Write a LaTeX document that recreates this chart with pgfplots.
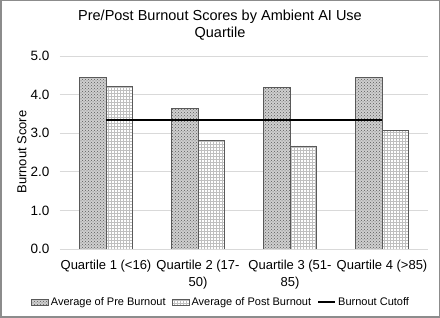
\documentclass[border=0pt]{standalone}
\usepackage{pgfplots}
\pgfplotsset{compat=1.18}
\usepackage{fontspec}
\setmainfont{Liberation Sans}
\usetikzlibrary{patterns}
\definecolor{gridc}{HTML}{D9D9D9}
\definecolor{framec}{HTML}{8C8C8C}
\definecolor{edgec}{HTML}{595959}
\begin{document}
\begin{tikzpicture}[x=1pt,y=1pt]
\useasboundingbox (0,0) rectangle (440,318);
\draw[framec, line width=1.5pt] (0.75,0.75) rectangle (439.25,317.25);
\begin{axis}[
  at={(60pt,69pt)}, anchor=south west,
  scale only axis, width=368pt, height=193pt,
  xmin=-0.5, xmax=3.5, ymin=0, ymax=5,
  axis line style={draw=none},
  ytick={0,1,2,3,4,5},
  yticklabel style={/pgf/number format/fixed, /pgf/number format/precision=1, /pgf/number format/fixed zerofill, font=\fontsize{13.5}{15}\selectfont, xshift=-7pt},
  /pgf/number format/assume math mode=true,
  ymajorgrids, grid style={gridc, line width=0.8pt},
  major tick length=0pt,
  xtick={0,1,2,3},
  xticklabels={{Quartile 1 (<16)}, {Quartile 2 (17-\\50)}, {Quartile 3 (51-\\85)}, {Quartile 4 (>85)}},
  xticklabel style={align=center, font=\fontsize{13}{16.5}\selectfont, anchor=north, yshift=-8pt},
  legend columns=3,
  legend style={at={(0.4375,-0.275)}, anchor=center, draw=none, font=\fontsize{11}{13}\selectfont, /tikz/every even column/.append style={column sep=4pt}, inner sep=0pt},
  legend cell align=left,
]
\addplot[ybar, bar width=26.5pt, bar shift=-13.25pt, draw=edgec, line width=0.8pt, fill=gray!38, postaction={pattern=crosshatch dots, pattern color=gray!70!black}, area legend]
  coordinates {(0,4.44) (1,3.64) (2,4.18) (3,4.45)};
\addlegendentry{Average of Pre Burnout}
\addplot[ybar, bar width=26.5pt, bar shift=13.25pt, draw=edgec, line width=0.8pt, fill=white, postaction={pattern=grid, pattern color=gray!50}, area legend]
  coordinates {(0,4.22) (1,2.81) (2,2.67) (3,3.08)};
\addlegendentry{Average of Post Burnout}
\addplot[black, line width=2pt, sharp plot, line legend] coordinates {(0,3.33) (3,3.33)};
\addlegendentry{Burnout Cutoff}
\end{axis}
\node[rotate=90, font=\fontsize{13}{15}\selectfont] at (22,166) {Burnout Score};
\node[align=center, font=\fontsize{14.5}{17}\selectfont] at (220,292.5) {Pre/Post Burnout Scores by Ambient AI Use\\Quartile};
\end{tikzpicture}
\end{document}
